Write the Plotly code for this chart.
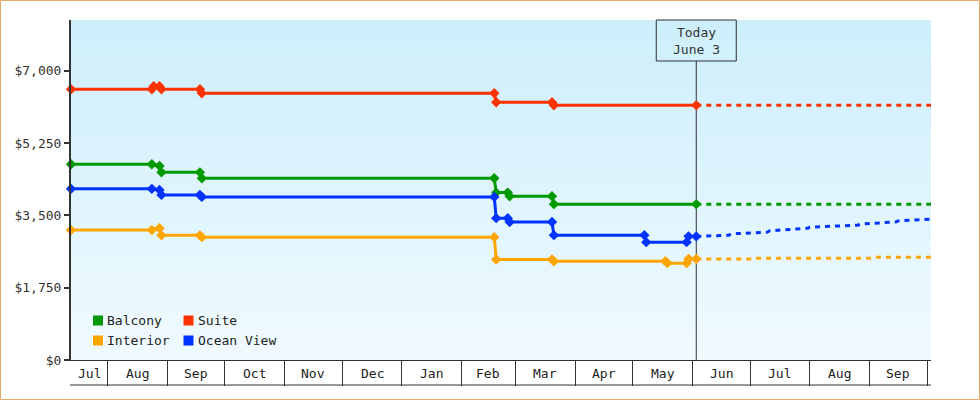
import plotly.graph_objects as go
import pandas as pd

# ---------------- data ----------------
today_label = ["Today", "June 3"]
today_date = "2023-06-03"
x_start = "2022-07-13"
x_end = "2023-10-03"

month_labels = ["Jul", "Aug", "Sep", "Oct", "Nov", "Dec", "Jan", "Feb",
                "Mar", "Apr", "May", "Jun", "Jul", "Aug", "Sep"]
month_starts = ["2022-07-01", "2022-08-01", "2022-09-01", "2022-10-01", "2022-11-01",
                "2022-12-01", "2023-01-01", "2023-02-01", "2023-03-01", "2023-04-01",
                "2023-05-01", "2023-06-01", "2023-07-01", "2023-08-01", "2023-09-01",
                "2023-10-01"]

y_tick_vals = [0, 1750, 3500, 5250, 7000]
y_tick_text = ["$0", "$1,750", "$3,500", "$5,250", "$7,000"]

series_names = ["Balcony", "Suite", "Interior", "Ocean View"]
series_colors = ["#009900", "#ff3300", "#ffa500", "#0033ff"]

balcony_dates = ["2022-07-13", "2022-08-24", "2022-08-28", "2022-08-29", "2022-09-18",
                 "2022-09-19", "2023-02-18", "2023-02-19", "2023-02-25", "2023-02-26",
                 "2023-03-20", "2023-03-21", "2023-06-03"]
balcony_prices = [4737, 4737, 4696, 4539, 4539, 4398, 4398, 4050, 4050, 3963, 3963, 3770, 3770]
balcony_fc_dates = ["2023-06-03", "2023-10-03"]
balcony_fc_prices = [3770, 3770]

suite_dates = ["2022-07-13", "2022-08-24", "2022-08-25", "2022-08-28", "2022-08-29",
               "2022-09-18", "2022-09-19", "2023-02-18", "2023-02-19", "2023-03-20",
               "2023-03-21", "2023-06-03"]
suite_prices = [6550, 6550, 6623, 6623, 6550, 6550, 6454, 6454, 6236, 6236, 6163, 6163]
suite_fc_dates = ["2023-06-03", "2023-10-03"]
suite_fc_prices = [6163, 6163]

interior_dates = ["2022-07-13", "2022-08-24", "2022-08-28", "2022-08-29", "2022-09-18",
                  "2022-09-19", "2023-02-18", "2023-02-19", "2023-03-20", "2023-03-21",
                  "2023-05-18", "2023-05-19", "2023-05-29", "2023-05-30", "2023-06-03"]
interior_prices = [3143, 3143, 3189, 3015, 3015, 2972, 2972, 2432, 2432, 2390,
                   2390, 2343, 2343, 2447, 2445]
interior_fc_dates = ["2023-06-03", "2023-07-02", "2023-07-03", "2023-09-03", "2023-09-04", "2023-10-03"]
interior_fc_prices = [2445, 2445, 2464, 2464, 2488, 2488]

ocean_dates = ["2022-07-13", "2022-08-24", "2022-08-28", "2022-08-29", "2022-09-18",
               "2022-09-19", "2023-02-18", "2023-02-19", "2023-02-25", "2023-02-26",
               "2023-03-20", "2023-03-21", "2023-05-07", "2023-05-08", "2023-05-29",
               "2023-05-30", "2023-06-03"]
ocean_prices = [4140, 4140, 4115, 3994, 3994, 3945, 3945, 3431, 3431, 3337,
                3337, 3020, 3020, 2851, 2851, 2991, 2990]
ocean_fc_dates = ["2023-06-03", "2023-06-20", "2023-06-21", "2023-07-10", "2023-07-11",
                  "2023-07-31", "2023-08-01", "2023-08-05", "2023-08-06", "2023-08-26",
                  "2023-08-27", "2023-09-15", "2023-09-16", "2023-10-03"]
ocean_fc_prices = [2990, 3020, 3052, 3093, 3124, 3189, 3214, 3220, 3238, 3262,
                   3286, 3342, 3366, 3407]

history = [(balcony_dates, balcony_prices), (suite_dates, suite_prices),
           (interior_dates, interior_prices), (ocean_dates, ocean_prices)]
forecast = [(balcony_fc_dates, balcony_fc_prices), (suite_fc_dates, suite_fc_prices),
            (interior_fc_dates, interior_fc_prices), (ocean_fc_dates, ocean_fc_prices)]

# ---------------- layout constants ----------------
W, H = 980, 400
ML, MR, MT, MB = 71, 49, 20, 40
PW, PH = W - ML - MR, H - MT - MB
FONT = "DejaVu Sans Mono"
TXT = "#333333"


def px_x(x):
    return (x - ML) / PW


def px_y(y):
    return (H - MB - y) / PH


fig = go.Figure()

# forecast (dashed) first, then history with markers
for (d, p), name, col in zip(forecast, series_names, series_colors):
    fig.add_trace(go.Scatter(x=d, y=p, mode="lines", name=name + " forecast",
                             line=dict(color=col, width=3, dash="5px,5px"),
                             showlegend=False, hoverinfo="skip", cliponaxis=False))
for (d, p), name, col in zip(history, series_names, series_colors):
    fig.add_trace(go.Scatter(x=d, y=p, mode="lines+markers", name=name,
                             line=dict(color=col, width=3),
                             marker=dict(symbol="diamond", size=8, color=col,
                                         line=dict(width=0)),
                             showlegend=False, cliponaxis=False))

shapes = []
# gradient background strips
top_c = (205, 239, 252)
bot_c = (240, 250, 255)
n = 68
for i in range(n):
    t = i / (n - 1)
    c = tuple(round(top_c[k] + (bot_c[k] - top_c[k]) * t) for k in range(3))
    y_top = MT + PH * i / n
    y_bot = MT + PH * (i + 1) / n
    shapes.append(dict(type="rect", xref="paper", yref="paper", x0=0, x1=1,
                       y0=px_y(y_bot + 0.5), y1=px_y(y_top), line=dict(width=0),
                       fillcolor="rgb(%d,%d,%d)" % c, layer="below"))

# today line and box
box_bottom = px_y(61)
shapes.append(dict(type="line", xref="x", yref="paper", x0=today_date, x1=today_date,
                   y0=0, y1=box_bottom, line=dict(color=TXT, width=1), layer="below"))
shapes.append(dict(type="rect", xref="x", yref="paper", xsizemode="pixel",
                   xanchor=today_date, x0=-40, x1=40, y0=box_bottom, y1=1,
                   line=dict(color=TXT, width=1), fillcolor="rgba(0,0,0,0)", layer="above"))

# bottom line under month bands
shapes.append(dict(type="line", xref="paper", yref="paper", x0=-1 / PW, x1=1,
                   y0=px_y(385), y1=px_y(385), line=dict(color=TXT, width=1)))

# outer border
shapes.append(dict(type="rect", xref="paper", yref="paper",
                   x0=px_x(0.5), x1=px_x(W - 0.5), y0=px_y(H - 0.5), y1=px_y(0.5),
                   line=dict(color="#e8aa68", width=1), fillcolor="rgba(0,0,0,0)"))

annotations = []
annotations.append(dict(text="<br>".join(today_label), x=today_date, xref="x",
                        y=px_y(41), yref="paper", yanchor="middle", xanchor="center",
                        showarrow=False, font=dict(family=FONT, size=13, color=TXT)))

# month labels centred in visible band
xs, xe = pd.Timestamp(x_start), pd.Timestamp(x_end)
for i, lab in enumerate(month_labels):
    a = max(pd.Timestamp(month_starts[i]), xs)
    b = min(pd.Timestamp(month_starts[i + 1]), xe)
    mid = a + (b - a) / 2
    annotations.append(dict(text=lab, x=mid, xref="x", y=px_y(373.5), yref="paper",
                            xanchor="center", yanchor="middle", showarrow=False,
                            font=dict(family=FONT, size=13, color="#222222")))

# legend (2 x 2)
leg_pos = [(93, 320.5), (183.5, 320.5), (93, 340.5), (183.5, 340.5)]
for (lx, ly), name, col in zip(leg_pos, series_names, series_colors):
    shapes.append(dict(type="rect", xref="paper", yref="paper",
                       x0=px_x(lx), x1=px_x(lx + 10), y0=px_y(ly + 5), y1=px_y(ly - 5),
                       line=dict(width=0), fillcolor=col))
    annotations.append(dict(text=name, x=px_x(lx + 12), xref="paper", y=px_y(ly),
                            yref="paper", xanchor="left", yanchor="middle",
                            showarrow=False, font=dict(family=FONT, size=13, color="#222222")))

fig.update_layout(
    width=W, height=H,
    margin=dict(l=ML, r=MR, t=MT, b=MB, pad=0),
    paper_bgcolor="white",
    plot_bgcolor="rgb(240,250,255)",
    font=dict(family=FONT, size=13, color=TXT),
    showlegend=False,
    shapes=shapes,
    annotations=annotations,
    xaxis=dict(type="date", range=[x_start, x_end], showgrid=False, zeroline=False,
               showline=True, linecolor=TXT, linewidth=1,
               ticks="outside", ticklen=25, tickwidth=1, tickcolor=TXT,
               tickvals=month_starts[1:], showticklabels=False, fixedrange=True),
    yaxis=dict(range=[0, 8225], showgrid=False, zeroline=False,
               showline=True, linecolor=TXT, linewidth=2,
               ticks="outside", ticklen=5, tickwidth=2, tickcolor=TXT,
               tickvals=y_tick_vals, ticktext=y_tick_text,
               tickfont=dict(family=FONT, size=13, color=TXT), fixedrange=True),
)

fig.write_html("out.html")
